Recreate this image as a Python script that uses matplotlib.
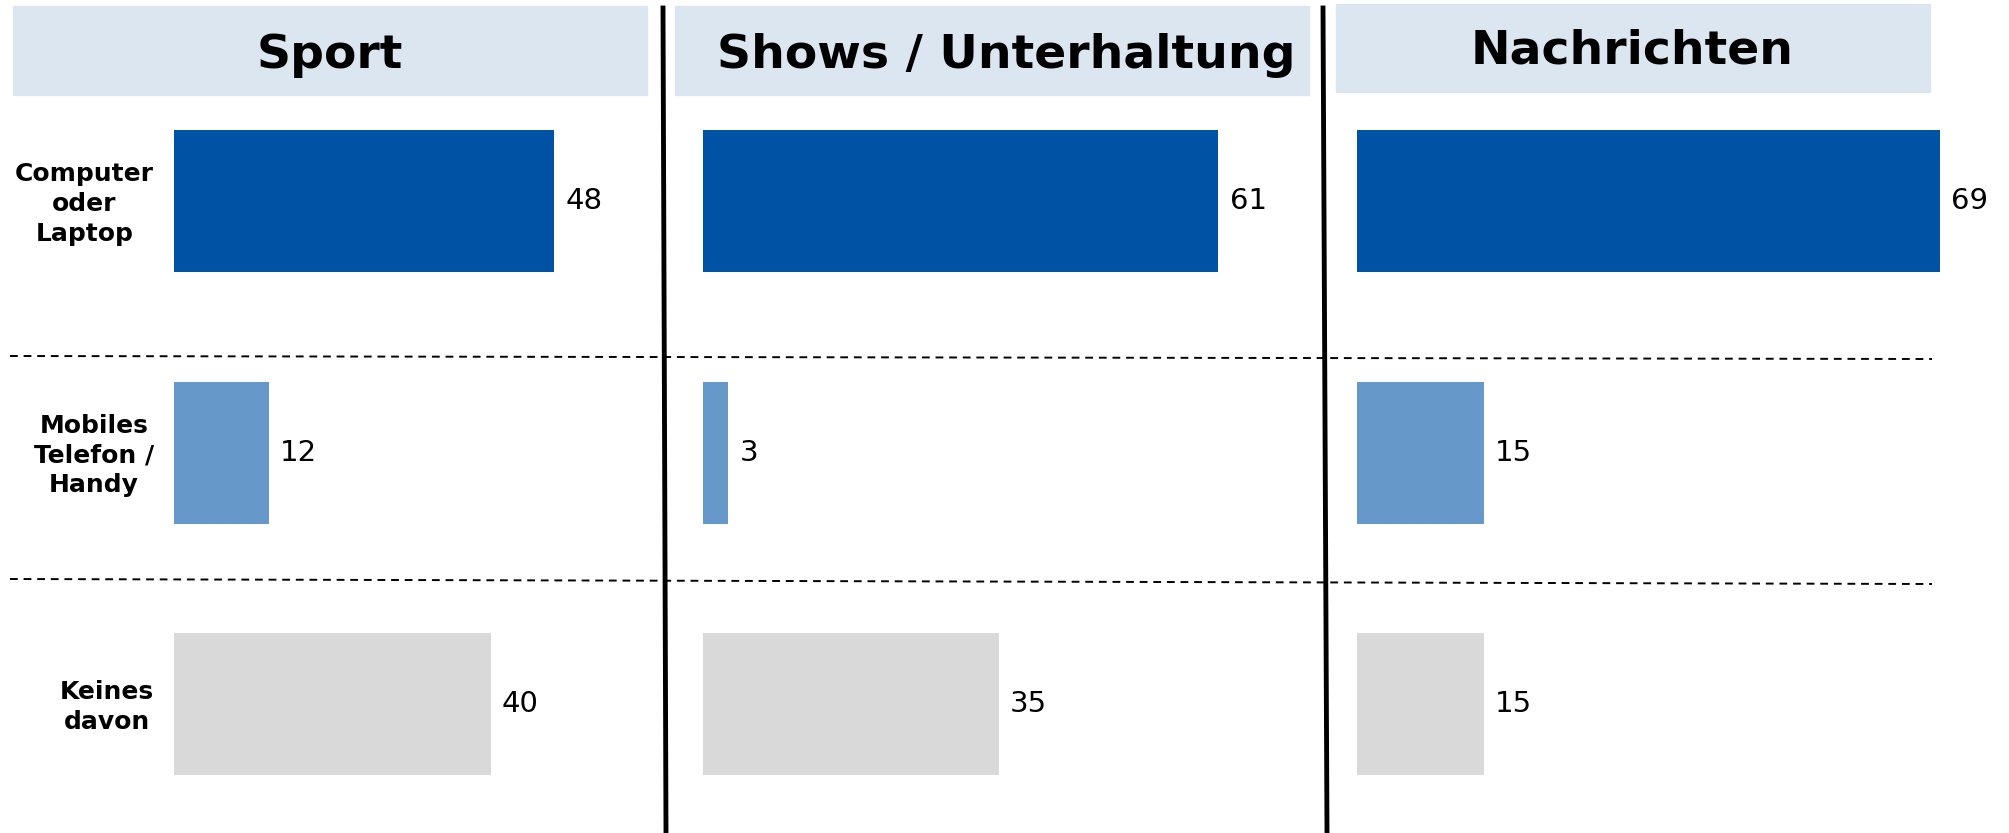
import numpy as np
import matplotlib
matplotlib.use("Agg")
import matplotlib.pyplot as plt
from matplotlib.patches import Rectangle
from matplotlib.lines import Line2D

# data
panels = ["Sport", "Shows / Unterhaltung", "Nachrichten"]
categories = ["Computer\noder\nLaptop", "Mobiles\nTelefon /\nHandy", "Keines\ndavon"]
sport = [48, 12, 40]
shows = [61, 3, 35]
nachrichten = [69, 15, 15]

bar_colors = ['#0052a5', '#6698c9', '#d9d9d9']
header_color = '#dce6f1'

W, H = 2009, 833
fig = plt.figure(figsize=(W / 100, H / 100), dpi=100)

def fx(px):
    return px / W

def fy(py):
    # py counted from the top of the picture
    return 1 - py / H

# panel layout in pixels: bar start, px per unit, header box, title centre
layout = [
    dict(left=174, scale=7.92, box=(13, 6, 647, 95), tx=330, ty=56),
    dict(left=703, scale=8.45, box=(675, 6, 1309, 95), tx=1006, ty=55),
    dict(left=1357, scale=8.45, box=(1336, 4, 1930, 92), tx=1632, ty=51),
]
values = [sport, shows, nachrichten]

y0, step = 201, 251.5
ypos = np.arange(len(categories))
for k, (title, vals) in enumerate(zip(panels, values)):
    L = layout[k]
    xmax = 70
    ax = fig.add_axes([fx(L['left']), 0, fx(xmax * L['scale']), 1])
    ax.set_xlim(0, xmax)
    ax.set_ylim((H - y0) / step, -y0 / step)
    ax.barh(ypos, vals, height=142 / step, color=bar_colors)
    for y, v in zip(ypos, vals):
        ax.annotate(str(v), (v, y), xytext=(8, 0), textcoords='offset points',
                    ha='left', va='center', fontsize=21, color='black')
    ax.axis('off')

    x1, y1, x2, y2 = L['box']
    fig.add_artist(Rectangle((fx(x1), fy(y2)), fx(x2 - x1), (y2 - y1) / H,
                             transform=fig.transFigure, color=header_color, zorder=0))
    fig.text(fx(L['tx']), fy(L['ty']), title, ha='center', va='center',
             fontsize=34, fontweight='bold', family='DejaVu Sans')

# category labels on the left
for i, lab in enumerate(categories):
    fig.text(fx(154), fy(y0 + i * step + 3), lab, ha='right', va='center',
             multialignment='center', fontsize=18, fontweight='bold',
             linespacing=1.3, family='DejaVu Sans')

# dashed separators
for ya, yb in [(356, 359), (579, 584)]:
    fig.add_artist(Line2D([fx(10), fx(1932)], [fy(ya), fy(yb)], color='black',
                          lw=1.4, ls=(0, (4, 3)), transform=fig.transFigure))

# vertical panel dividers
for xa, xb in [(663, 666), (1323, 1327)]:
    fig.add_artist(Line2D([fx(xa), fx(xb)], [fy(8), fy(H)], color='black',
                          lw=3.5, transform=fig.transFigure))

plt.savefig("out.png", dpi=100)
